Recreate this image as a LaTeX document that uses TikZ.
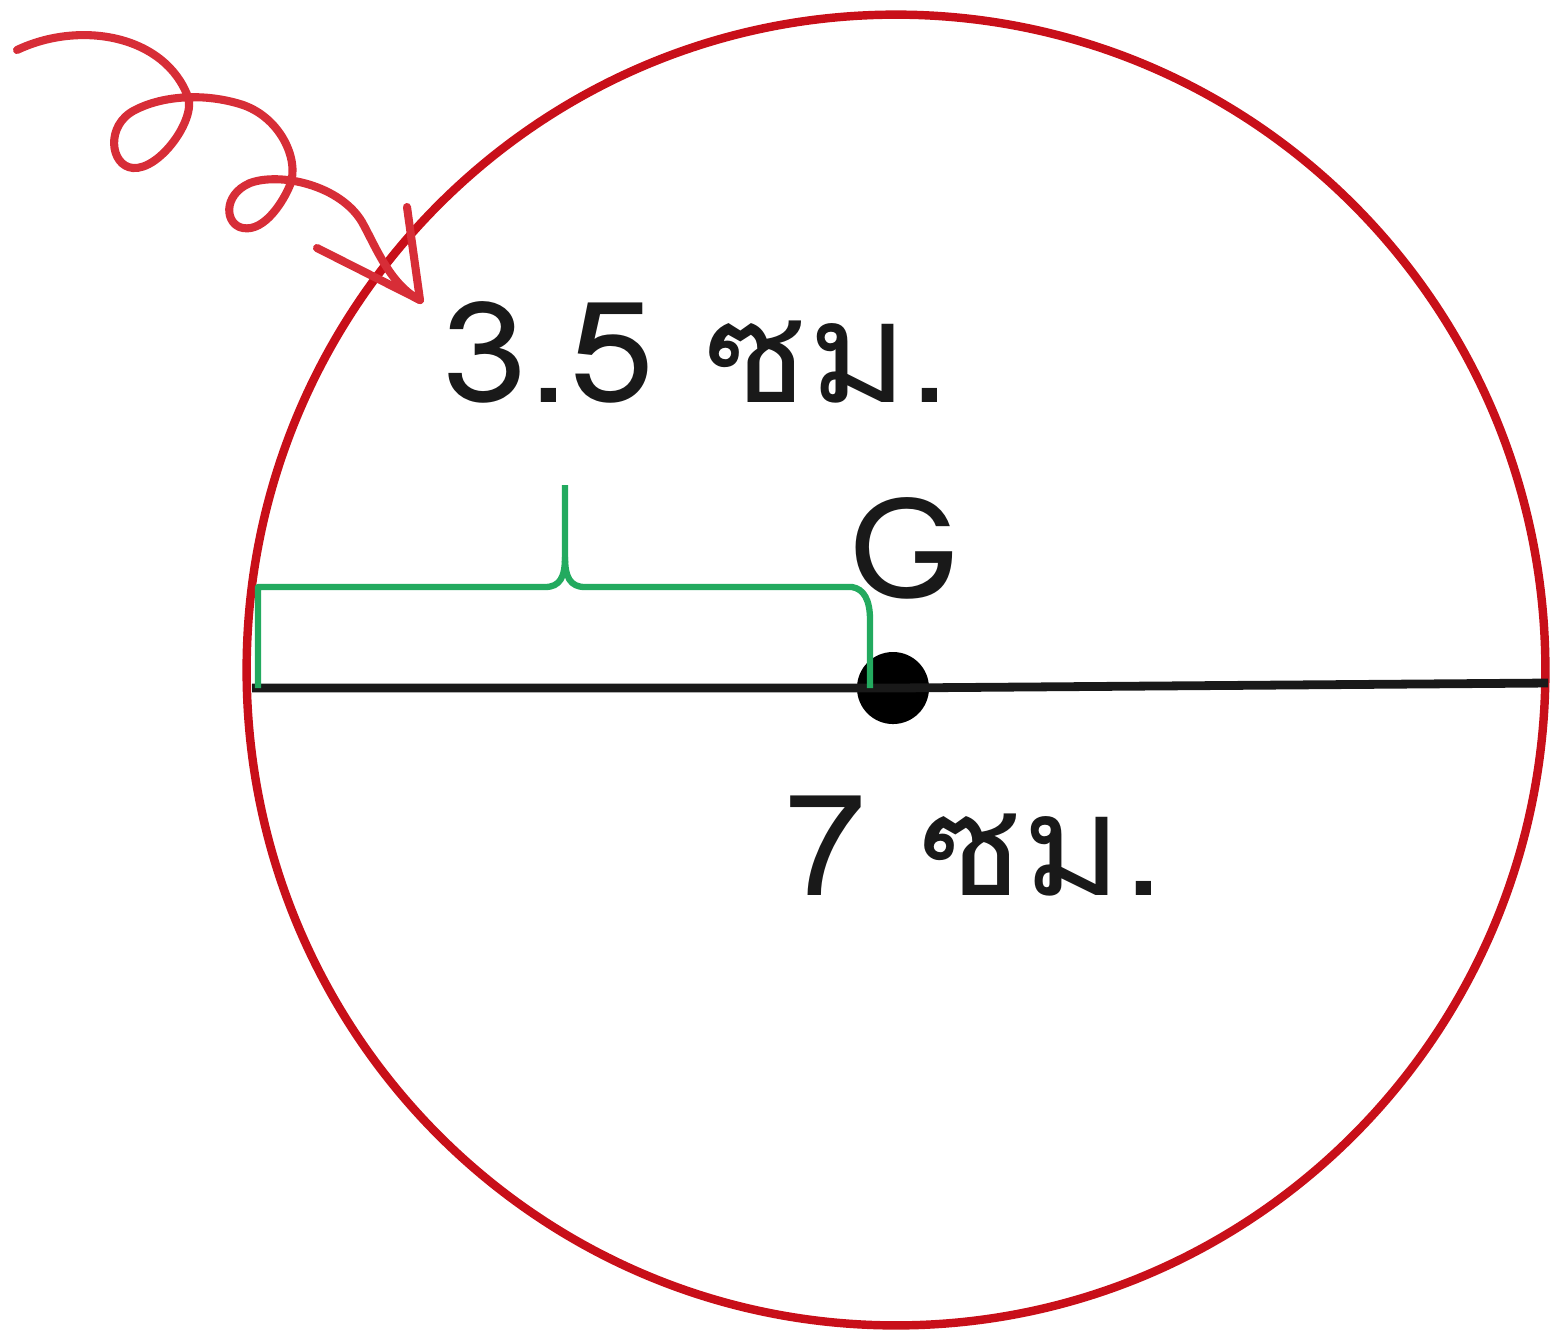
\documentclass[tikz,border=0pt]{standalone}
\usepackage{fontspec}
\newfontfamily\thaifont[Script=Thai,FakeStretch=1.08]{Loma}
\definecolor{cred}{RGB}{200,15,25}
\definecolor{sqred}{RGB}{215,45,55}
\definecolor{cgreen}{RGB}{35,170,95}
\definecolor{cblack}{RGB}{25,25,25}
\begin{document}
\begin{tikzpicture}[x=0.01cm,y=-0.01cm,
  ring/.style={draw=cred,line width=2.4pt},
  diam/.style={draw=cblack,line width=2.5pt},
  bracepath/.style={draw=cgreen,line width=1.8pt,line join=round},
  squig/.style={draw=sqred,line width=2.3pt,line cap=round,line join=round},
  lbl/.style={inner sep=0pt,font=\thaifont\fontsize{40}{42}\selectfont,text=cblack},
  centre/.style={circle,fill=black,inner sep=0pt,minimum size=0.72cm}]
\useasboundingbox (0,0) rectangle (1552,1335);
% circle
\draw[ring] (896,670) ellipse [x radius=6.49cm, y radius=6.55cm];
% diameter
\coordinate (L) at (252,688);
\coordinate (R) at (1548,683);
\node[centre] (G) at (893,688) {};
\draw[diam] (L) -- (G.center) -- (R);
% brace
\coordinate (b0) at (258,688);
\coordinate (b1) at (870,688);
\draw[bracepath] (b0) -- (258,587) -- (545,587)
  .. controls (560,587) and (565,577) .. (565,557) -- (565,485);
\draw[bracepath] (565,557) .. controls (565,577) and (570,587) .. (585,587)
  -- (852,587) .. controls (864,589) and (870,600) .. (870,620) -- (b1);
% labels
\node[lbl,anchor=base west] (t35) at (442,402) {3.5 ซม.};
\node[lbl,anchor=base west] (tG) at (848,598) {G};
\node[lbl,anchor=base west] (t7) at (783,895) {7 ซม.};
% squiggly arrow
\coordinate (start) at (17,50);
\coordinate (tip) at (420,300);
\draw[squig] (start)
  .. controls (80,20) and (165,35) .. (188,97)
  .. controls (196,119) and (160,170) .. (133,168)
  .. controls (110,166) and (105,125) .. (135,110)
  .. controls (160,97) and (200,92) .. (240,104)
  .. controls (280,116) and (300,160) .. (290,185)
  .. controls (284,200) and (265,232) .. (243,228)
  .. controls (225,225) and (222,195) .. (250,183)
  .. controls (280,172) and (340,185) .. (362,222)
  .. controls (375,245) and (390,285) .. (tip);
\draw[squig] (317,248) -- (tip) -- (407,207);
\end{tikzpicture}
\end{document}
